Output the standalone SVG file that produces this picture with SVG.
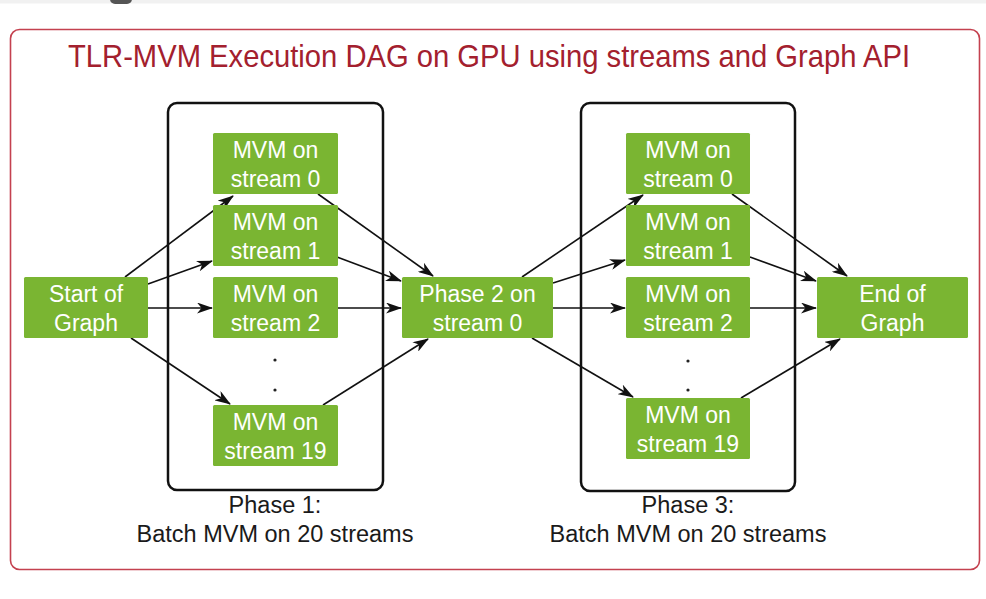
<svg xmlns="http://www.w3.org/2000/svg" width="986" height="599" viewBox="0 0 986 599">
<defs>
<marker id="arr" markerUnits="userSpaceOnUse" viewBox="0 0 16 11" refX="15" refY="5.5" markerWidth="16" markerHeight="11" orient="auto">
<path d="M0,0 L16,5.5 L0,11 L4.5,5.5 Z" fill="#111"/>
</marker>
<style>
.node rect{fill:#7ab532;}
.node text{fill:#ffffff;font-family:"Liberation Sans",Arial,sans-serif;font-size:23px;text-anchor:middle;}
.phase{fill:none;stroke:#111;stroke-width:2.5;}
.lbl{fill:#1a1a1a;font-family:"Liberation Sans",Arial,sans-serif;font-size:23.5px;text-anchor:middle;}
.conn line{stroke:#111;stroke-width:1.6;marker-end:url(#arr);}
.dot{fill:#222;}
</style>
</defs>
<rect x="0" y="0" width="986" height="599" fill="#ffffff"/>
<rect x="0" y="0" width="986" height="3.5" fill="#f1f1f1"/>
<rect x="110" y="-6" width="22" height="10" rx="5" fill="#555"/>
<g id="frame">
<rect x="10.5" y="29.5" width="969" height="540" rx="9" fill="none" stroke="#c4414f" stroke-width="1.6"/>
<text x="489" y="67" fill="#a3202e" font-family="'Liberation Sans',Arial,sans-serif" font-size="30.5" text-anchor="middle" textLength="842" lengthAdjust="spacingAndGlyphs">TLR-MVM Execution DAG on GPU using streams and Graph API</text>
</g>
<g id="phase1">
<rect class="phase" x="168" y="103" width="215" height="387" rx="9"/>
<text class="lbl" x="275" y="513">Phase 1:</text>
<text class="lbl" x="275" y="542">Batch MVM on 20 streams</text>
<circle class="dot" cx="275" cy="360" r="1.6"/>
<circle class="dot" cx="275" cy="390" r="1.6"/>
</g>
<g id="phase3">
<rect class="phase" x="581" y="103" width="214" height="388" rx="9"/>
<text class="lbl" x="688" y="513">Phase 3:</text>
<text class="lbl" x="688" y="542">Batch MVM on 20 streams</text>
<circle class="dot" cx="688" cy="361" r="1.6"/>
<circle class="dot" cx="688" cy="390" r="1.6"/>
</g>
<g class="conn" id="connectors">
<line x1="125" y1="277" x2="233" y2="196"/>
<line x1="148" y1="284" x2="212" y2="261"/>
<line x1="148" y1="308" x2="212" y2="308"/>
<line x1="131" y1="338" x2="230" y2="404"/>
<line x1="318" y1="194" x2="433" y2="276"/>
<line x1="337" y1="257" x2="401" y2="281"/>
<line x1="337" y1="308" x2="401" y2="308"/>
<line x1="323" y1="405" x2="428" y2="339"/>
<line x1="522" y1="277" x2="643" y2="195"/>
<line x1="553" y1="283" x2="625" y2="260"/>
<line x1="553" y1="308" x2="625" y2="308"/>
<line x1="532" y1="338" x2="633" y2="397"/>
<line x1="732" y1="194" x2="847" y2="276"/>
<line x1="750" y1="257" x2="816" y2="281"/>
<line x1="750" y1="308" x2="816" y2="308"/>
<line x1="741" y1="398" x2="840" y2="339"/>
</g>
<g class="node" id="start">
<rect x="24" y="277" width="124" height="61" rx="1.5"/>
<text x="86" y="302">Start of</text>
<text x="86" y="331">Graph</text>
</g>
<g class="node" id="p1s0">
<rect x="213" y="133" width="125" height="61" rx="1.5"/>
<text x="275.5" y="158">MVM on</text>
<text x="275.5" y="187">stream 0</text>
</g>
<g class="node" id="p1s1">
<rect x="213" y="205" width="125" height="61" rx="1.5"/>
<text x="275.5" y="230">MVM on</text>
<text x="275.5" y="259">stream 1</text>
</g>
<g class="node" id="p1s2">
<rect x="213" y="277" width="125" height="61" rx="1.5"/>
<text x="275.5" y="302">MVM on</text>
<text x="275.5" y="331">stream 2</text>
</g>
<g class="node" id="p1s19">
<rect x="213" y="405" width="125" height="61" rx="1.5"/>
<text x="275.5" y="430">MVM on</text>
<text x="275.5" y="459">stream 19</text>
</g>
<g class="node" id="phase2">
<rect x="402" y="277" width="151" height="61" rx="1.5"/>
<text x="477.5" y="302">Phase 2 on</text>
<text x="477.5" y="331">stream 0</text>
</g>
<g class="node" id="p3s0">
<rect x="626" y="133" width="124" height="61" rx="1.5"/>
<text x="688" y="158">MVM on</text>
<text x="688" y="187">stream 0</text>
</g>
<g class="node" id="p3s1">
<rect x="626" y="205" width="124" height="61" rx="1.5"/>
<text x="688" y="230">MVM on</text>
<text x="688" y="259">stream 1</text>
</g>
<g class="node" id="p3s2">
<rect x="626" y="277" width="124" height="61" rx="1.5"/>
<text x="688" y="302">MVM on</text>
<text x="688" y="331">stream 2</text>
</g>
<g class="node" id="p3s19">
<rect x="626" y="398" width="124" height="61" rx="1.5"/>
<text x="688" y="423">MVM on</text>
<text x="688" y="452">stream 19</text>
</g>
<g class="node" id="end">
<rect x="817" y="277" width="151" height="61" rx="1.5"/>
<text x="892.5" y="302">End of</text>
<text x="892.5" y="331">Graph</text>
</g>
</svg>
